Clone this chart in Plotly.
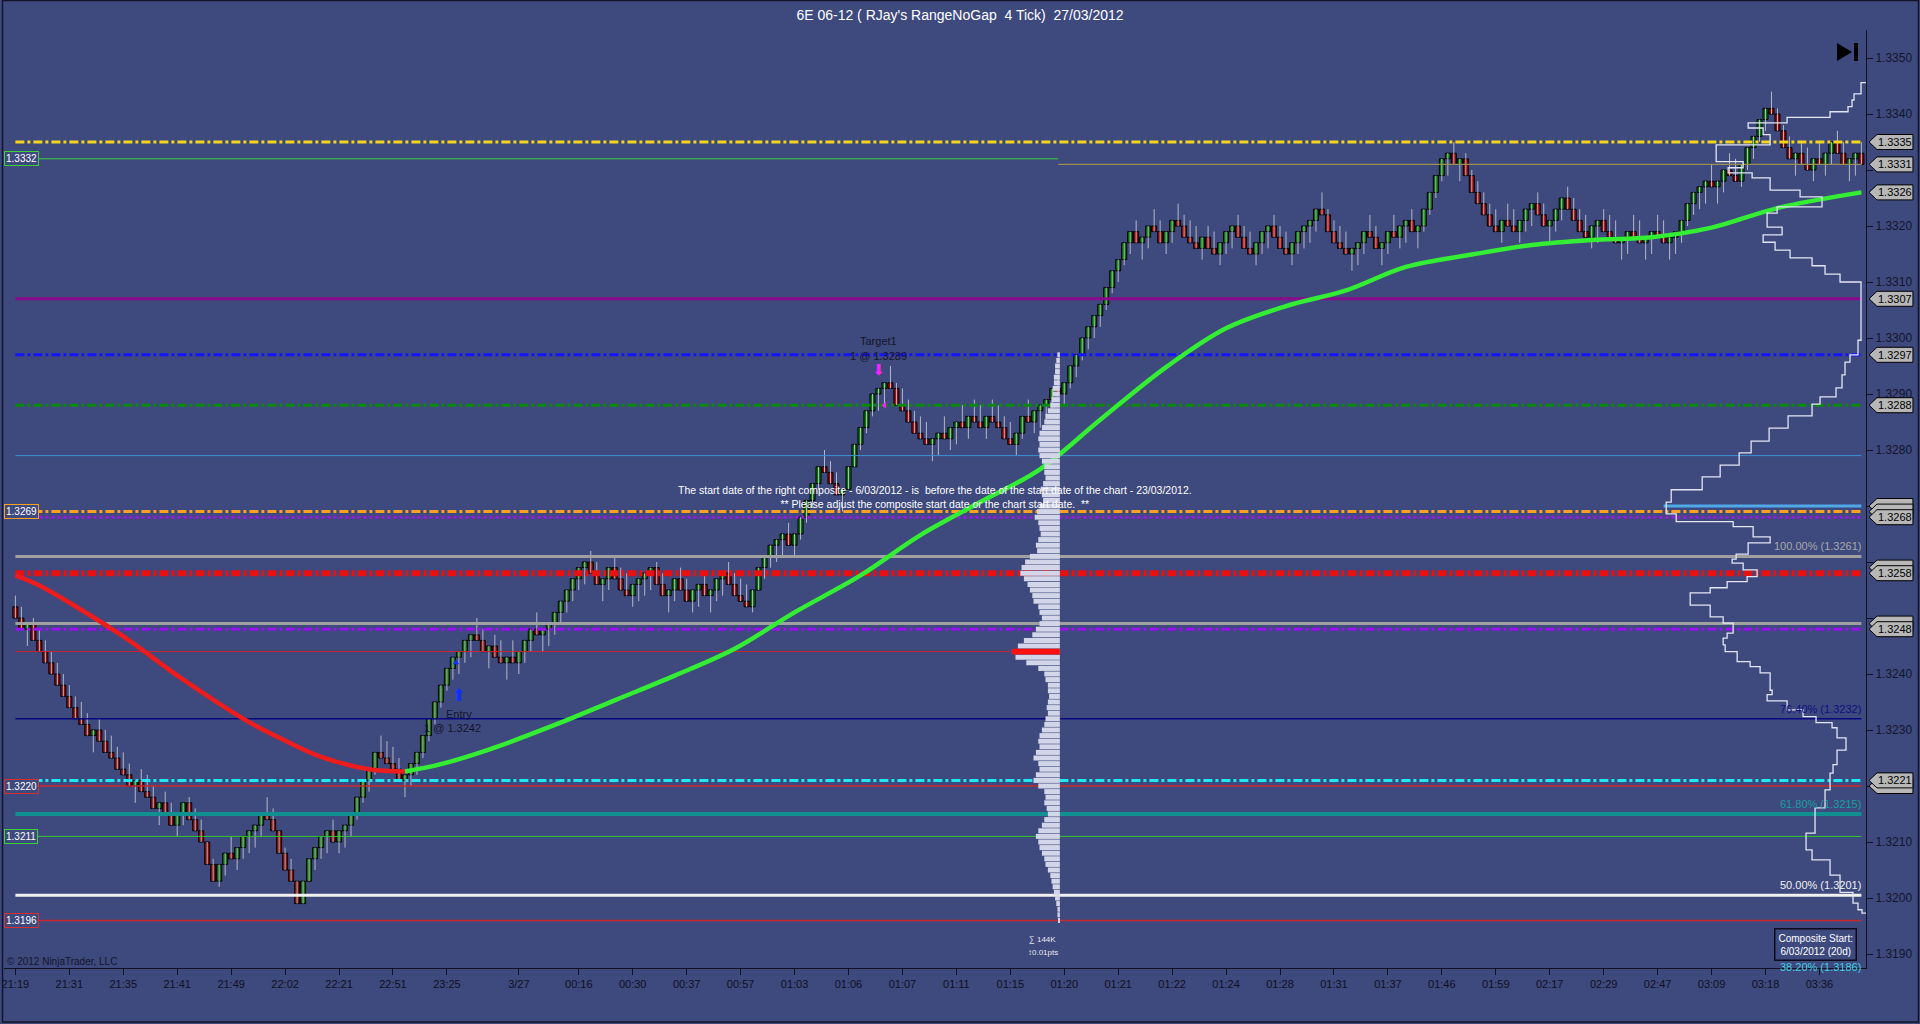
import plotly.graph_objects as go

# ---------------- data (prices in ticks of 0.0001 above 1.3000) ----------------
TICK = 0.0001
BASE = 1.3000
first_open_tick = 252
close_ticks = [
    250, 248, 249, 246, 244, 242, 240, 238, 236, 234,
    232, 231, 229, 230, 228, 226, 225, 223, 222, 220,
    221, 219, 218, 216, 217, 215, 213, 215, 217, 214,
    212, 210, 206, 203, 206, 208, 207, 209, 211, 212,
    213, 215, 214, 212, 208, 205, 203, 199, 203, 207,
    209, 211, 212, 210, 212, 213, 215, 218, 221, 223,
    226, 225, 224, 223, 221, 222, 224, 226, 229, 232,
    235, 238, 241, 243, 244, 246, 247, 246, 244, 245,
    243, 242, 243, 242, 244, 246, 248, 247, 248, 249,
    251, 253, 255, 257, 259, 260, 258, 256, 257, 259,
    257, 255, 254, 256, 257, 258, 259, 256, 254, 255,
    257, 255, 253, 255, 256, 254, 255, 257, 258, 256,
    254, 253, 252, 255, 259, 261, 263, 264, 265, 263,
    265, 268, 271, 274, 277, 276, 274, 272, 273, 277,
    281, 284, 287, 290, 291, 292, 291, 288, 287, 285,
    283, 282, 281, 282, 283, 282, 284, 285, 284, 286,
    285, 284, 286, 285, 284, 282, 281, 283, 286, 285,
    287, 288, 289, 291, 290, 292, 295, 297, 300, 302,
    304, 306, 309, 312, 314, 317, 319, 317, 318, 320,
    319, 317, 319, 321, 320, 318, 317, 316, 318, 316,
    315, 317, 319, 320, 318, 316, 315, 317, 319, 320,
    318, 316, 315, 317, 319, 320, 321, 323, 322, 319,
    317, 316, 315, 316, 317, 319, 318, 316, 317, 319,
    318, 320, 321, 319, 320, 323, 326, 329, 332, 333,
    331, 332, 329, 326, 324, 322, 320, 319, 321, 320,
    319, 321, 323, 324, 322, 320, 321, 323, 325, 323,
    321, 319, 318, 320, 321, 319, 318, 317, 318, 319,
    318, 317, 318, 319, 318, 317, 318, 319, 321, 324,
    326, 327, 328, 327, 328, 330, 329, 328, 331, 334,
    336, 339, 341, 340, 337, 334, 332, 333, 331, 330,
    332, 331, 333, 335, 333, 331, 332, 333, 331,
]
RANGE_TICKS = 4

time_tick_bars = [0, 9, 18, 27, 36, 45, 54, 63, 72, 84, 94, 103, 112, 121, 130, 139, 148,
                  157, 166, 175, 184, 193, 202, 211, 220, 229, 238, 247, 256, 265, 274, 283, 292, 301]
time_tick_labels = ["21:19", "21:31", "21:35", "21:41", "21:49", "22:02", "22:21", "22:51", "23:25",
                    "3/27", "00:16", "00:30", "00:37", "00:57", "01:03", "01:06", "01:07", "01:11",
                    "01:15", "01:20", "01:21", "01:22", "01:24", "01:28", "01:31", "01:37", "01:46",
                    "01:59", "02:17", "02:29", "02:47", "03:09", "03:18", "03:36"]

price_tick_values = [1.3190, 1.3200, 1.3210, 1.3220, 1.3230, 1.3240, 1.3250, 1.3260, 1.3270,
                     1.3280, 1.3290, 1.3300, 1.3310, 1.3320, 1.3330, 1.3340, 1.3350]
# labels hidden under the price tags on the right axis
price_tick_hidden = [1.3220, 1.3250, 1.3260, 1.3270, 1.3330]

ma_bars = [0, 4, 10, 18, 28, 39, 45, 51, 59, 65, 71, 79, 90, 100, 110, 120, 130, 141, 151, 161,
           171, 181, 192, 202, 212, 222, 232, 243, 253, 263, 273, 283, 294, 308]
ma_ticks = [257.6, 255.8, 252.1, 246.7, 239.0, 231.4, 228.1, 225.2, 223.0, 222.6, 223.9, 226.5,
            230.9, 235.3, 239.7, 244.5, 251.0, 257.6, 264.8, 270.7, 276.6, 285.4, 294.8, 301.75,
            305.7, 308.5, 312.7, 314.9, 316.6, 317.5, 318.0, 319.7, 323.2, 326.0]

session_top_tick = 297
session_vol = [2, 3, 4, 4, 5, 5, 6, 6, 7, 8,
               10, 12, 13, 15, 17, 18, 17, 18, 17, 15,
               13, 13, 12, 14, 16, 15, 14, 17, 19, 21,
               18, 17, 16, 18, 20, 19, 25, 29, 32, 33,
               30, 27, 25, 23, 22, 18, 17, 15, 17, 20,
               23, 30, 35, 40, 37, 28, 18, 13, 12, 10,
               10, 9, 10, 11, 10, 12, 13, 15, 17, 18,
               17, 20, 22, 18, 17, 20, 22, 18, 13, 12,
               13, 11, 10, 13, 15, 18, 20, 18, 17, 15,
               13, 12, 10, 8, 7, 6, 5, 4, 3, 2,
               2, 1]
session_poc_tick = 244
session_total = "144K"

comp_edges_ticks = [345.6, 343.6, 342.5, 341.3, 340.4, 339.4, 338.4, 337.5, 336.3, 334.5, 331.5,
                    330.4, 329.5, 328.6, 326.4, 325.2, 323.4, 322.3, 319.8, 318.4, 317.1, 315.7,
                    314.3, 312.9, 311.4, 310.0, 299.6, 297.0, 295.7, 293.4, 291.1, 289.5, 288.2,
                    286.1, 283.9, 281.6, 279.5, 277.3, 275.2, 272.9, 270.7, 268.6, 267.2, 266.3,
                    264.5, 263.4, 261.4, 260.5, 259.8, 258.6, 257.4, 256.5, 255.4, 254.5, 252.3,
                    250.2, 249.1, 247.3, 246.4, 245.2, 244.0, 242.2, 241.3, 240.2, 237.1, 236.3,
                    235.2, 233.6, 232.4, 231.3, 230.4, 228.6, 226.4, 223.8, 222.3, 219.3, 216.1,
                    211.6, 208.6, 206.8, 204.1, 201.0, 199.1, 197.9, 197.3]
comp_vol = [5, 12, 14, 18, 36, 79, 118, 103, 96, 150, 123, 138, 114, 96, 66, 44, 89, 99, 84, 103,
            91, 76, 54, 41, 26, 5, 8, 16, 21, 24, 30, 46, 54, 78, 97, 115, 127, 146, 164, 195,
            200, 190, 133, 113, 96, 118, 130, 134, 123, 109, 119, 139, 156, 176, 156, 143, 133,
            139, 143, 141, 129, 116, 106, 96, 94, 99, 79, 63, 50, 34, 29, 20, 29, 33, 36, 41,
            51, 60, 54, 36, 26, 13, 8, 4]

level_prices = [1.3335, 1.3332, 1.3331, 1.3307, 1.3297, 1.3288, 1.3279, 1.3270, 1.3269, 1.3268,
                1.3258, 1.3249, 1.3248, 1.3244, 1.3221, 1.3220, 1.3211, 1.3196]
fib_prices = [1.3261, 1.3232, 1.3215, 1.32005, 1.3186]
fib_labels = ["100.00% (1.3261)", "76.40% (1.3232)", "61.80% (1.3215)", "50.00% (1.3201)", "38.20% (1.3186)"]
tag_hidden_prices = [1.3270, 1.3269, 1.3259, 1.3249, 1.3220]
tag_prices = [1.3335, 1.3331, 1.3326, 1.3307, 1.3297, 1.3288, 1.3268, 1.3258, 1.3248, 1.3221]
left_label_prices = [1.3332, 1.3269, 1.3220, 1.3211, 1.3196]

entry_bar, entry_price = 74, 1.3242
target_bar, target_price = 144, 1.3289
title_text = "6E 06-12 ( RJay's RangeNoGap\u00a0\u00a04 Tick)\u00a0\u00a027/03/2012"
composite_start = "6/03/2012 (20d)"
chart_start = "23/03/2012"

# ---------------- styles / layout geometry ----------------
BG = "#3e497e"
FONT = "Liberation Sans"
PX_L, PX_R, PX_T, PX_B = 2, 1866, 30, 968
Y0, Y1 = 1.31875, 1.3355
X0, X1 = -1.9, 308.77
PLOT_W, PLOT_H = PX_R - PX_L, PX_B - PX_T


def pxx(px):
    return (px - PX_L) / PLOT_W


def pxy(py):
    return (PX_B - py) / PLOT_H


def price_to_paper(p):
    return (p - Y0) / (Y1 - Y0)


DD = "9px,3px,3px,3px"
level_styles = [
    ("#f2d51c", 3, DD, None, None),
    ("#3ad13a", 1, "solid", None, 174),
    ("#9a8f55", 1.2, "solid", 174, None),
    ("#8a0a8a", 3, "solid", None, None),
    ("#1414ff", 3, DD, None, None),
    ("#0a8a0a", 3, DD, None, None),
    ("#3c8fd6", 1, "solid", None, None),
    ("#4fa8e8", 3, "solid", 275, None),
    ("#ffa020", 3, DD, None, None),
    ("#9a1ae0", 3, "3px,3px", None, None),
    ("#e81010", 6, "9px,3px,3px,3px", None, None),
    ("#a0a0a0", 3, "solid", None, None),
    ("#9a10f0", 3, DD, None, None),
    ("#c8282d", 1, "solid", None, 166),
    ("#20e8f0", 3, DD, None, None),
    ("#c8282d", 1.5, "solid", None, None),
    ("#30c830", 1, "solid", None, None),
    ("#c8282d", 1.5, "solid", None, None),
]
fib_styles = [("#a0a0a0", 3), ("#0a0a80", 1.5), ("#109090", 4), ("#f0f0f0", 3), ("#40d0e0", 1.5)]
fib_text_colors = ["#a8a8a8", "#101080", "#15a0a0", "#f0f0f0", "#40d0e0"]
left_label_colors = ["#3ad13a", "#ffa020", "#d83030", "#3ad13a", "#d83030"]

# ---------------- derived OHLC (range bars, no gap) ----------------
n = len(close_ticks)
bars = list(range(n))
open_ticks = [first_open_tick] + close_ticks[:-1]
opens = [BASE + t * TICK for t in open_ticks]
closes = [BASE + t * TICK for t in close_ticks]
highs, lows = [], []
for o, c in zip(open_ticks, close_ticks):
    if c > o:
        highs.append(BASE + c * TICK)
        lows.append(BASE + (c - RANGE_TICKS) * TICK)
    else:
        lows.append(BASE + c * TICK)
        highs.append(BASE + (c + RANGE_TICKS) * TICK)

fig = go.Figure()

# session volume profile (own overlaid axis, anchored at px 1059, 1.2 px per unit)
VP_ANCHOR, VP_SCALE = 1059, 1.2
sess_prices = [BASE + (session_top_tick - k) * TICK for k in range(len(session_vol))]
fig.add_trace(go.Bar(x=session_vol, y=sess_prices, orientation="h", xaxis="x3", yaxis="y",
                     width=TICK * 0.9, marker=dict(color="#d3d6e8", line=dict(width=0)),
                     hoverinfo="skip"))
poc_idx = session_top_tick - session_poc_tick
fig.add_trace(go.Bar(x=[session_vol[poc_idx]], y=[sess_prices[poc_idx]], orientation="h",
                     xaxis="x3", yaxis="y", width=TICK * 1.0,
                     marker=dict(color="#ff1010", line=dict(width=0)), hoverinfo="skip"))

# wicks
wx, wy = [], []
for i in bars:
    wx += [i, i, None]
    wy += [lows[i], highs[i], None]
fig.add_trace(go.Scatter(x=wx, y=wy, mode="lines", line=dict(color="#b8b8c4", width=1),
                         hoverinfo="skip"))
# bodies
body_base = [min(o, c) for o, c in zip(opens, closes)]
body_len = [abs(c - o) for o, c in zip(opens, closes)]
body_col = ["#07700a" if c > o else "#8e0a0a" for o, c in zip(opens, closes)]
fig.add_trace(go.Bar(x=bars, y=body_len, base=body_base, width=0.84,
                     marker=dict(color=body_col, line=dict(color="#000000", width=1)),
                     hoverinfo="skip"))

# horizontal levels
for p, (col, w, dash, b0, b1) in zip(level_prices, level_styles):
    xa = bars[0] if b0 is None else b0
    xb = bars[-1] if b1 is None else b1
    fig.add_trace(go.Scatter(x=[xa, xb], y=[p, p], mode="lines",
                             line=dict(color=col, width=w, dash=dash), hoverinfo="skip"))
for p, (col, w) in zip(fib_prices, fib_styles):
    fig.add_trace(go.Scatter(x=[bars[0], bars[-1]], y=[p, p], mode="lines",
                             line=dict(color=col, width=w), hoverinfo="skip"))

# composite profile outline (own overlaid axis, 0 at the right edge)
cx, cy = [0], [BASE + comp_edges_ticks[0] * TICK]
for k, v in enumerate(comp_vol):
    cx += [v, v]
    cy += [BASE + comp_edges_ticks[k] * TICK, BASE + comp_edges_ticks[k + 1] * TICK]
cx.append(0)
cy.append(BASE + comp_edges_ticks[-1] * TICK)
fig.add_trace(go.Scatter(x=cx, y=cy, mode="lines", xaxis="x2", yaxis="y",
                         line=dict(color="#e4e6f4", width=1.3), hoverinfo="skip"))

# moving average: red while falling, green while rising
ma_prices = [BASE + t * TICK for t in ma_ticks]
turn = ma_prices.index(min(ma_prices))
fig.add_trace(go.Scatter(x=ma_bars[:turn + 1], y=ma_prices[:turn + 1], mode="lines",
                         line=dict(color="#ee1c1c", width=4.5, shape="spline"), hoverinfo="skip"))
fig.add_trace(go.Scatter(x=ma_bars[turn:], y=ma_prices[turn:], mode="lines",
                         line=dict(color="#33ee33", width=4.5, shape="spline"), hoverinfo="skip"))

# trade markers
entry_arrow_y = lows[entry_bar] - 0.0004
fig.add_trace(go.Scatter(x=[entry_bar], y=[entry_arrow_y], mode="text", text=["\u2b06"],
                         textfont=dict(color="#1030ff", size=17, family="DejaVu Sans"),
                         hoverinfo="skip"))
fig.add_trace(go.Scatter(x=[entry_bar - 0.5], y=[entry_price], mode="markers",
                         marker=dict(symbol="triangle-up", size=6, color="#1030ff"), hoverinfo="skip"))
target_arrow_y = highs[target_bar] + 0.0003
fig.add_trace(go.Scatter(x=[target_bar], y=[target_arrow_y], mode="text", text=["\u2b07"],
                         textfont=dict(color="#ff20ff", size=15, family="DejaVu Sans"),
                         hoverinfo="skip"))
fig.add_trace(go.Scatter(x=[target_bar + 1], y=[target_price - 0.0001], mode="markers",
                         marker=dict(symbol="triangle-left", size=6, color="#ff20ff"), hoverinfo="skip"))

ann = []
ann.append(dict(x=entry_bar, y=entry_arrow_y, xref="x", yref="y", text="Entry", showarrow=False,
                yshift=-18, xanchor="center", yanchor="middle",
                font=dict(family=FONT, size=11, color="#15152a")))
ann.append(dict(x=entry_bar - 1, y=entry_arrow_y, xref="x", yref="y",
                text=f"1 @ {entry_price:.4f}", showarrow=False, yshift=-32,
                xanchor="center", yanchor="middle",
                font=dict(family=FONT, size=11, color="#15152a")))
ann.append(dict(x=target_bar, y=target_arrow_y, xref="x", yref="y", text="Target1", showarrow=False,
                yshift=31, xanchor="center", yanchor="middle",
                font=dict(family=FONT, size=11, color="#15152a")))
ann.append(dict(x=target_bar, y=target_arrow_y, xref="x", yref="y",
                text=f"1 @ {target_price:.4f}", showarrow=False, yshift=16,
                xanchor="center", yanchor="middle",
                font=dict(family=FONT, size=11, color="#15152a")))

# fib labels
for k, (p, t) in enumerate(zip(fib_prices, fib_labels)):
    if k == len(fib_prices) - 1:
        ann.append(dict(x=pxx(1863), y=pxy(967), xref="paper", yref="paper", text=t,
                        showarrow=False, xanchor="right", yanchor="middle",
                        font=dict(family=FONT, size=11, color=fib_text_colors[k])))
    else:
        ann.append(dict(x=pxx(1863), y=p, xref="paper", yref="y", text=t, showarrow=False,
                        xanchor="right", yanchor="bottom", yshift=2,
                        font=dict(family=FONT, size=11, color=fib_text_colors[k])))

# left price labels
for p, col in zip(left_label_prices, left_label_colors):
    ann.append(dict(x=0, y=p, xref="paper", yref="y", text=f"{p:.4f}", showarrow=False,
                    xanchor="left", yanchor="middle", bgcolor=BG, bordercolor=col, borderwidth=1,
                    borderpad=1, font=dict(family=FONT, size=10, color="#ffffff")))

# right axis price tags
shapes = []
h = 7.5 / PLOT_H
xt, xb0, xb1 = pxx(1869), pxx(1877), pxx(1913)


def tag_shape(p):
    yp = price_to_paper(p)
    return dict(type="path", xref="paper", yref="paper", layer="above",
                path=f"M {xt},{yp} L {xb0},{yp + h} L {xb1},{yp + h} L {xb1},{yp - h} L {xb0},{yp - h} Z",
                fillcolor="#b7b7b7", line=dict(color="#000000", width=1))


for p in tag_hidden_prices:
    shapes.append(tag_shape(p))
for p in tag_prices:
    shapes.append(tag_shape(p))
    ann.append(dict(x=pxx(1895), y=price_to_paper(p), xref="paper", yref="paper", text=f"{p:.4f}",
                    showarrow=False, xanchor="center", yanchor="middle",
                    font=dict(family=FONT, size=11, color="#000000")))

# texts
ann.append(dict(x=pxx(934), y=pxy(496.5), xref="paper", yref="paper",
                text=f"The start date of the right composite - {composite_start.split(' ')[0]} - is  before the date of the start date of the chart - {chart_start}.<br>** Please adjust the composite start date or the chart start date.  **",
                showarrow=False, align="center", xanchor="center", yanchor="middle",
                font=dict(family=FONT, size=10.5, color="#ffffff")))
ann.append(dict(x=pxx(1042), y=pxy(939), xref="paper", yref="paper", text="\u2211 " + session_total,
                showarrow=False, xanchor="center", yanchor="middle",
                font=dict(family=FONT, size=8, color="#e8e8f0")))
ann.append(dict(x=pxx(1042), y=pxy(952), xref="paper", yref="paper", text="\u21950.01pts",
                showarrow=False, xanchor="center", yanchor="middle",
                font=dict(family=FONT, size=8, color="#e8e8f0")))
ann.append(dict(x=pxx(3), y=pxy(961), xref="paper", yref="paper", text="\u00a9 2012 NinjaTrader, LLC",
                showarrow=False, xanchor="left", yanchor="middle",
                font=dict(family=FONT, size=10, color="#15152a")))
ann.append(dict(x=pxx(1815), y=pxy(944.5), xref="paper", yref="paper",
                text="Composite Start:<br>" + composite_start, showarrow=False, align="center",
                xanchor="center", yanchor="middle",
                bgcolor=BG, bordercolor="#0c0c1c", borderwidth=1.5, borderpad=3,
                font=dict(family=FONT, size=10, color="#ffffff")))

# end-of-chart icon and outer border
shapes.append(dict(type="path", xref="paper", yref="paper", layer="above",
                   path=f"M {pxx(1837)},{pxy(43)} L {pxx(1837)},{pxy(61)} L {pxx(1852)},{pxy(52)} Z",
                   fillcolor="#000000", line=dict(width=0)))
shapes.append(dict(type="rect", xref="paper", yref="paper", layer="above",
                   x0=pxx(1854), x1=pxx(1858), y0=pxy(61), y1=pxy(43),
                   fillcolor="#000000", line=dict(width=0)))
shapes.append(dict(type="rect", xref="paper", yref="paper", layer="above",
                   x0=pxx(0.5), x1=pxx(1918.5), y0=pxy(1022), y1=pxy(0.5),
                   fillcolor="rgba(0,0,0,0)", line=dict(color="#15152a", width=1.5)))

hidden_keys = {f"{v:.4f}" for v in price_tick_hidden}
price_tick_text = ["" if f"{v:.4f}" in hidden_keys else f"{v:.4f}" for v in price_tick_values]

fig.update_layout(
    width=1920, height=1024,
    margin=dict(l=PX_L, r=1920 - PX_R, t=PX_T, b=1024 - PX_B),
    paper_bgcolor=BG, plot_bgcolor=BG,
    showlegend=False, barmode="overlay", hovermode=False,
    font=dict(family=FONT, color="#15152a"),
    title=dict(text=title_text, x=0.5, xref="container", y=1 - 15 / 1024, yref="container",
               xanchor="center", yanchor="middle", font=dict(family=FONT, size=14, color="#ffffff")),
    xaxis=dict(range=[X0, X1], tickmode="array", tickvals=time_tick_bars, ticktext=time_tick_labels,
               ticks="outside", ticklen=6, tickcolor="#101020", showline=True, linecolor="#101020",
               linewidth=1, showgrid=False, zeroline=False, ticklabeloverflow="allow",
               tickfont=dict(family=FONT, size=11, color="#101020")),
    xaxis2=dict(overlaying="x", range=[PLOT_W, 0], visible=False, showgrid=False, zeroline=False),
    xaxis3=dict(overlaying="x", range=[(VP_ANCHOR - PX_L) / VP_SCALE, -(PX_R - VP_ANCHOR) / VP_SCALE],
                visible=False, showgrid=False, zeroline=False),
    yaxis=dict(range=[Y0, Y1], side="right", tickmode="array", tickvals=price_tick_values,
               ticktext=price_tick_text,
               ticks="outside", ticklen=6, tickcolor="#101020", showline=True, linecolor="#101020",
               linewidth=1, showgrid=False, zeroline=False,
               tickfont=dict(family=FONT, size=12, color="#15152a")),
    annotations=ann, shapes=shapes,
)

fig.write_html("out.html", config={"displayModeBar": False},
               post_script="document.body.style.margin='0';document.body.style.overflow='hidden';")
